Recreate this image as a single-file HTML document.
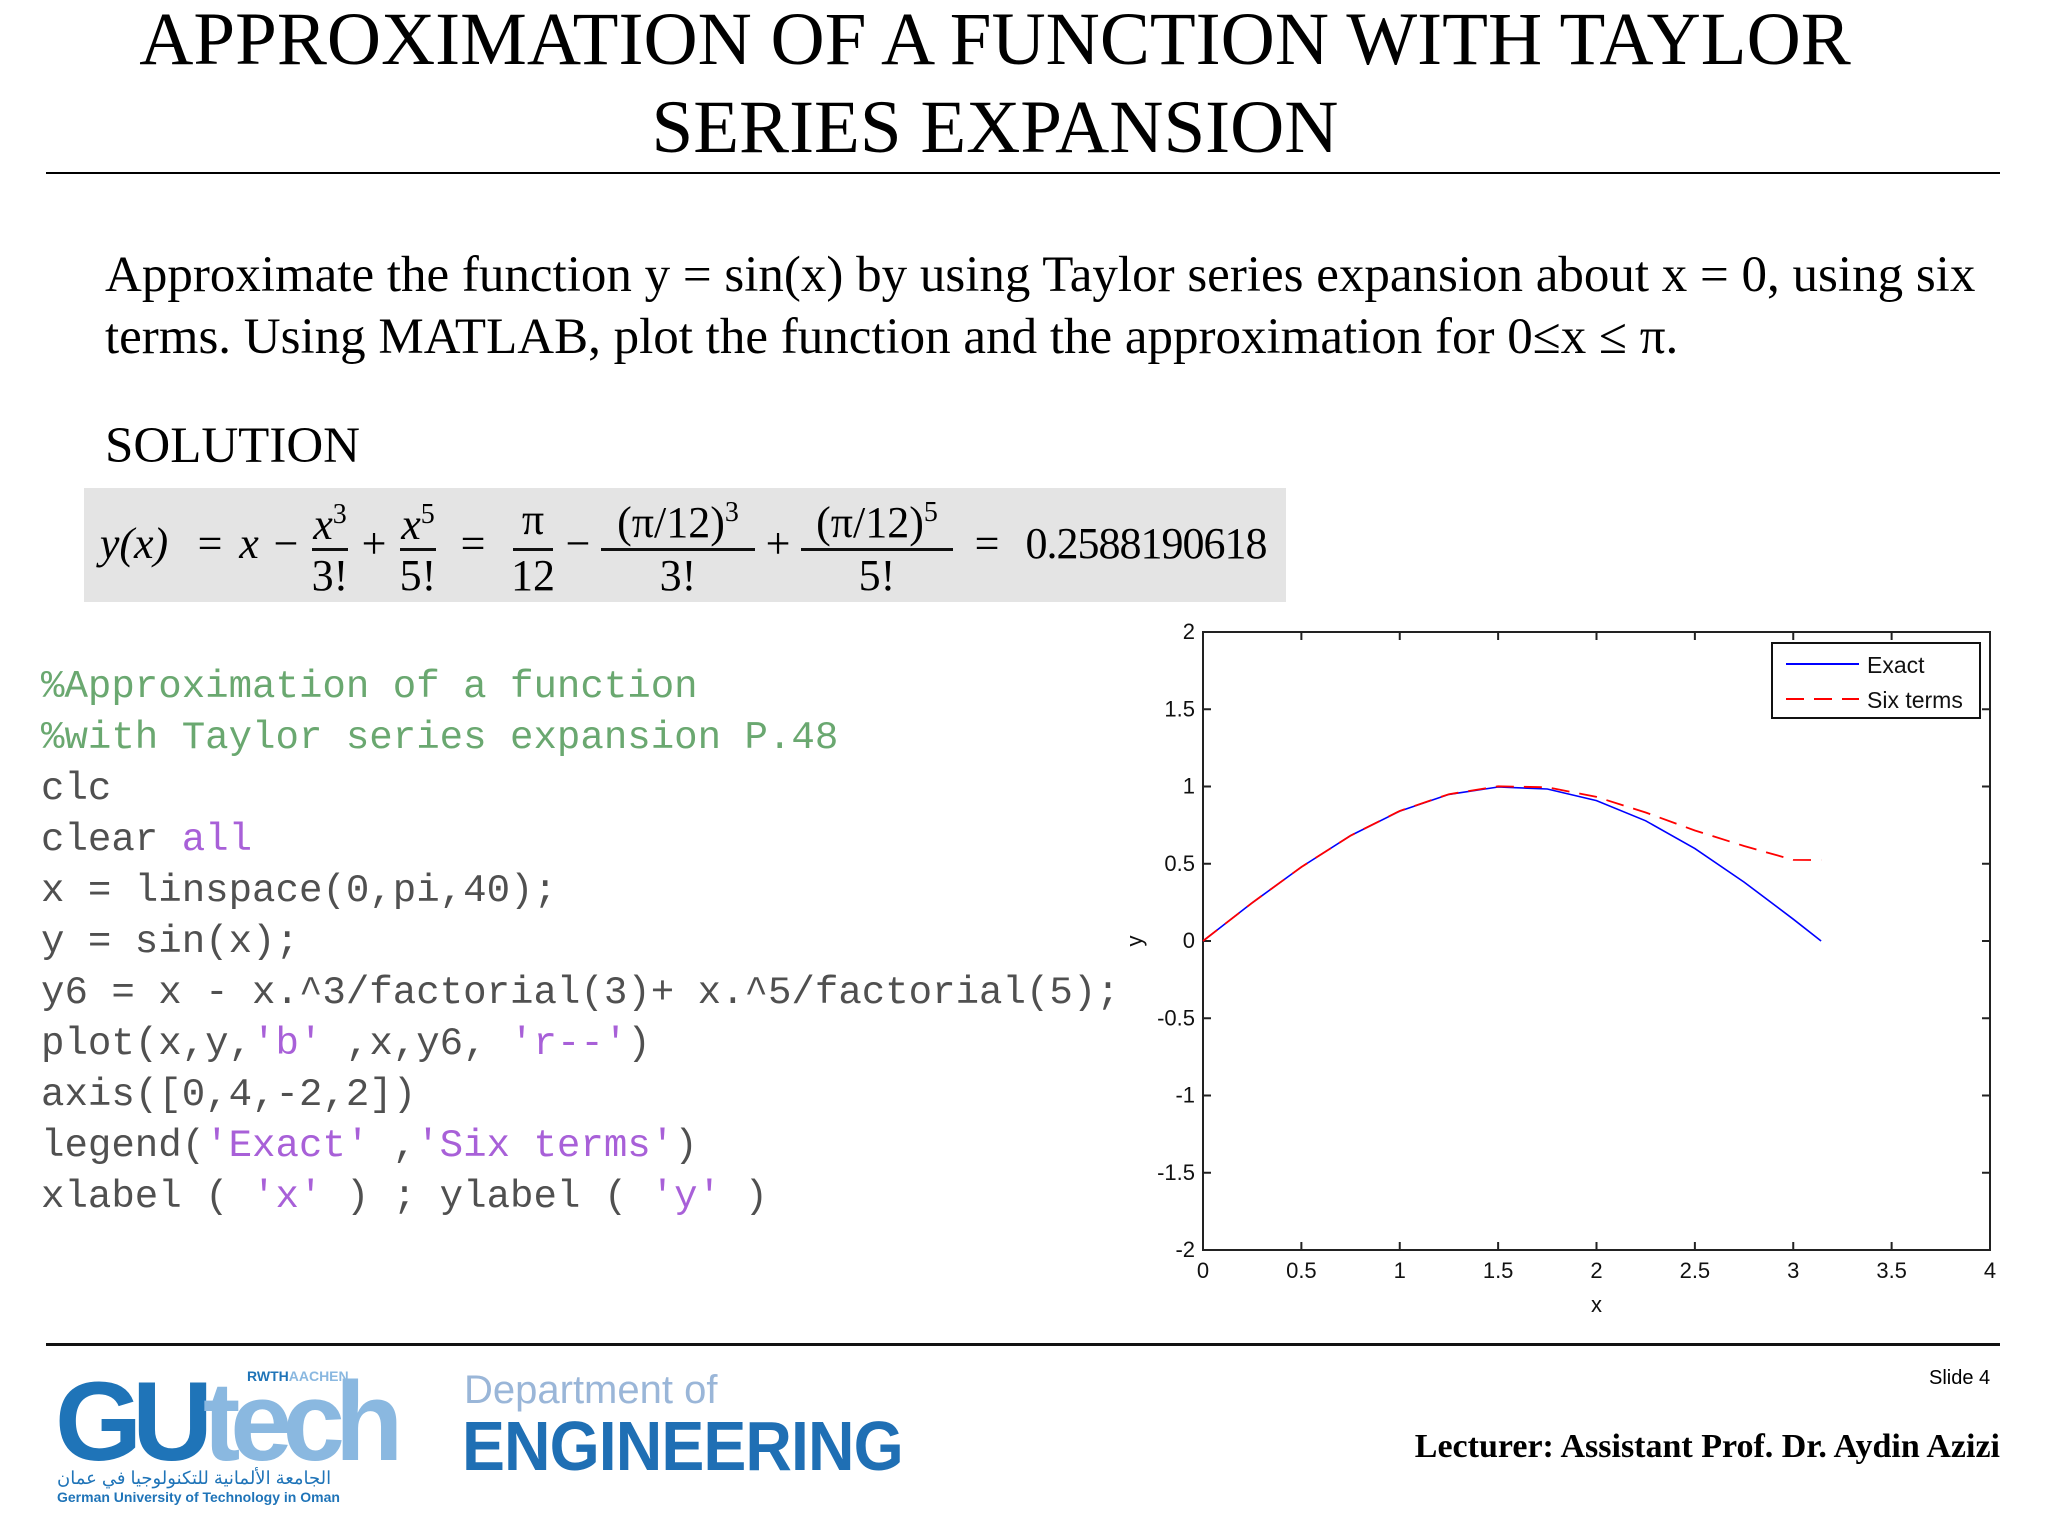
<!DOCTYPE html>
<html><head><meta charset="utf-8"><style>
body{margin:0;background:#fff;}
#slide{position:relative;width:2048px;height:1536px;overflow:hidden;background:#fff;font-family:"Liberation Serif",serif;color:#000;}
.abs{position:absolute;white-space:nowrap;}
.title{left:0;width:1990px;text-align:center;font-size:75px;line-height:75px;}
.para{left:105px;font-size:51px;line-height:51px;}
.code{left:41px;font-family:"Liberation Mono",monospace;font-size:39.1px;color:#505050;line-height:40px;}
.cm{color:#6aa870;}
.st{color:#a860d8;}
.f{position:absolute;font-size:44px;line-height:44px;transform:translate(-50%,-50%);white-space:nowrap;}
.i{font-style:italic;}
.bar{position:absolute;height:3px;background:#111;}
</style></head><body>
<div id="slide">
<div class="abs title" style="top:2px;">APPROXIMATION OF A FUNCTION WITH TAYLOR</div>
<div class="abs title" style="top:90px;">SERIES EXPANSION</div>
<div class="abs" style="left:46px;top:172px;width:1954px;height:2px;background:#000;"></div>

<div class="abs para" style="top:250px;">Approximate the function y = sin(x) by using Taylor series expansion about x = 0, using six</div>
<div class="abs para" style="top:312px;">terms. Using MATLAB, plot the function and the approximation for 0≤x ≤ π.</div>
<div class="abs para" style="top:421px;">SOLUTION</div>

<div class="abs" style="left:84px;top:488px;width:1202px;height:114px;background:#e4e4e4;">
 <div class="f i" style="left:50px;top:56px;">y(x)</div>
 <div class="f" style="left:126px;top:56px;">=</div>
 <div class="f i" style="left:165px;top:56px;">x</div>
 <div class="f" style="left:202px;top:56px;">−</div>
 <div class="f i" style="left:246px;top:32px;">x<sup style="font-size:28px;font-style:normal">3</sup></div>
 <div class="bar" style="left:228px;top:60px;width:36px;"></div>
 <div class="f" style="left:246px;top:88px;">3!</div>
 <div class="f" style="left:290px;top:56px;">+</div>
 <div class="f i" style="left:334px;top:32px;">x<sup style="font-size:28px;font-style:normal">5</sup></div>
 <div class="bar" style="left:316px;top:60px;width:36px;"></div>
 <div class="f" style="left:334px;top:88px;">5!</div>
 <div class="f" style="left:389px;top:56px;">=</div>
 <div class="f" style="left:449px;top:32px;">π</div>
 <div class="bar" style="left:429px;top:60px;width:40px;"></div>
 <div class="f" style="left:449px;top:88px;">12</div>
 <div class="f" style="left:494px;top:56px;">−</div>
 <div class="f" style="left:594px;top:30px;">(π/12)<sup style="font-size:28px">3</sup></div>
 <div class="bar" style="left:517px;top:60px;width:154px;"></div>
 <div class="f" style="left:594px;top:88px;">3!</div>
 <div class="f" style="left:694px;top:56px;">+</div>
 <div class="f" style="left:793px;top:30px;">(π/12)<sup style="font-size:28px">5</sup></div>
 <div class="bar" style="left:717px;top:60px;width:152px;"></div>
 <div class="f" style="left:793px;top:88px;">5!</div>
 <div class="f" style="left:903px;top:56px;">=</div>
 <div class="f" style="left:1062px;top:56px;letter-spacing:-1px;">0.2588190618</div>
</div>

<div class="abs code" style="top:667px;"><span class="cm">%Approximation of a function</span></div>
<div class="abs code" style="top:718px;"><span class="cm">%with Taylor series expansion P.48</span></div>
<div class="abs code" style="top:769px;">clc</div>
<div class="abs code" style="top:820px;">clear <span class="st">all</span></div>
<div class="abs code" style="top:871px;">x = linspace(0,pi,40);</div>
<div class="abs code" style="top:922px;">y = sin(x);</div>
<div class="abs code" style="top:973px;">y6 = x - x.^3/factorial(3)+ x.^5/factorial(5);</div>
<div class="abs code" style="top:1024px;">plot(x,y,<span class="st">'b'</span> ,x,y6, <span class="st">'r--'</span>)</div>
<div class="abs code" style="top:1075px;">axis([0,4,-2,2])</div>
<div class="abs code" style="top:1126px;">legend(<span class="st">'Exact'</span> ,<span class="st">'Six terms'</span>)</div>
<div class="abs code" style="top:1177px;">xlabel ( <span class="st">'x'</span> ) ; ylabel ( <span class="st">'y'</span> )</div>

<svg id="chart" class="abs" style="left:0;top:0;" width="2048" height="1536"></svg>

<div class="abs" style="left:46px;top:1343px;width:1954px;height:3px;background:#111;"></div>
<div class="abs" style="left:55px;top:1366px;width:370px;height:140px;">
 <div class="abs" style="left:0;top:0;font-family:'Liberation Sans',sans-serif;font-weight:bold;font-size:112px;line-height:112px;letter-spacing:-10px;"><span style="color:#1f74b8">GU</span><span style="color:#8ab8e0">tech</span></div>
 <div class="abs" style="left:192px;top:2px;font-family:'Liberation Sans',sans-serif;font-weight:bold;font-size:14px;color:#1f74b8;">RWTH<span style="color:#8ab8e0">AACHEN</span></div>
 <div class="abs" style="left:2px;top:102px;font-family:'Liberation Sans','Noto Sans CJK SC',sans-serif;font-size:18px;color:#1f74b8;">الجامعة الألمانية للتكنولوجيا في عمان</div>
 <div class="abs" style="left:2px;top:123px;font-family:'Liberation Sans',sans-serif;font-weight:bold;font-size:14px;color:#1f74b8;">German University of Technology in Oman</div>
</div>
<div class="abs" style="left:464px;top:1368px;font-family:'Liberation Sans',sans-serif;font-size:40px;color:#9ab6d8;">Department of</div>
<div class="abs" style="left:462px;top:1410px;font-family:'Liberation Sans',sans-serif;font-weight:bold;font-size:70px;line-height:72px;color:#1f6fb4;letter-spacing:-1px;transform:scaleX(0.92);transform-origin:left;">ENGINEERING</div>
<div class="abs" style="left:1929px;top:1367px;font-family:'Liberation Sans',sans-serif;font-size:20px;">Slide 4</div>
<div class="abs" style="right:48px;top:1428px;font-weight:bold;font-size:34px;">Lecturer: Assistant Prof. Dr. Aydin Azizi</div>
</div>
<script>
const xs = [0,0.25,0.5,0.75,1,1.25,1.5,1.75,2,2.25,2.5,2.75,3,3.1416];
const exactY = [0,0.247,0.479,0.682,0.841,0.949,0.997,0.984,0.909,0.778,0.598,0.381,0.141,0];
const sixTermsY = [0,0.247,0.479,0.682,0.842,0.950,1.001,0.995,0.933,0.832,0.715,0.615,0.525,0.524];
const xTicks = [0,0.5,1,1.5,2,2.5,3,3.5,4];
const yTicks = [-2,-1.5,-1,-0.5,0,0.5,1,1.5,2];
const xTickLabels = ['0','0.5','1','1.5','2','2.5','3','3.5','4'];
const yTickLabels = ['-2','-1.5','-1','-0.5','0','0.5','1','1.5','2'];
const legendLabels = ['Exact','Six terms'];

const svg = document.getElementById('chart');
const NS = 'http://www.w3.org/2000/svg';
const L=1203,R=1990,T=632,B=1250;
const sx = v => L + (v-0)/(4-0)*(R-L);
const sy = v => B - (v+2)/4*(B-T);
function mk(tag, attrs){const e=document.createElementNS(NS,tag);for(const k in attrs)e.setAttribute(k,attrs[k]);svg.appendChild(e);return e;}
const frame = mk('rect',{x:L,y:T,width:R-L,height:B-T,fill:'#fff',stroke:'#222','stroke-width':2});


xTicks.forEach((t,i)=>{
  const x=sx(t);
  const a=mk('line',{x1:x,y1:B,x2:x,y2:B-8,stroke:'#222','stroke-width':2});
  
  
  mk('line',{x1:x,y1:T,x2:x,y2:T+8,stroke:'#222','stroke-width':2});
  const tx=mk('text',{x:x,y:B+28,'text-anchor':'middle','font-family':'Liberation Sans, sans-serif','font-size':22,fill:'#111'});
  tx.textContent=xTickLabels[i];
  
  
});
yTicks.forEach((t,i)=>{
  const y=sy(t);
  const a=mk('line',{x1:L,y1:y,x2:L+8,y2:y,stroke:'#222','stroke-width':2});
  
  
  mk('line',{x1:R,y1:y,x2:R-8,y2:y,stroke:'#222','stroke-width':2});
  const tx=mk('text',{x:L-8,y:y+7,'text-anchor':'end','font-family':'Liberation Sans, sans-serif','font-size':22,fill:'#111'});
  tx.textContent=yTickLabels[i];
  
  
});
const xl=mk('text',{x:(L+R)/2,y:B+62,'text-anchor':'middle','font-family':'Liberation Sans, sans-serif','font-size':22,fill:'#111'});
xl.textContent='x';


const yl=mk('text',{x:1136,y:sy(0)+6,'text-anchor':'middle','font-family':'Liberation Sans, sans-serif','font-size':22,fill:'#111',transform:'rotate(-90 1136 '+(sy(0))+')'});
yl.textContent='y';


function pts(ys){return xs.map((x,i)=>sx(x).toFixed(1)+','+sy(ys[i]).toFixed(1)).join(' ');}
const l1=mk('polyline',{points:pts(exactY),fill:'none',stroke:'#0000ff','stroke-width':1.6});


const l2=mk('polyline',{points:pts(sixTermsY),fill:'none',stroke:'#ff0000','stroke-width':1.8,'stroke-dasharray':'18 10'});


const lg=mk('rect',{x:1772,y:643,width:208,height:75,fill:'#fff',stroke:'#111','stroke-width':2});


mk('line',{x1:1786,y1:664,x2:1859,y2:664,stroke:'#0000ff','stroke-width':2});
mk('line',{x1:1786,y1:699,x2:1859,y2:699,stroke:'#ff0000','stroke-width':2,'stroke-dasharray':'18 10'});
legendLabels.forEach((s,i)=>{
  const t=mk('text',{x:1867,y:673+i*35,'font-family':'Liberation Sans, sans-serif','font-size':23,fill:'#111'});
  t.textContent=s;
  
  
});
</script>
</body></html>
